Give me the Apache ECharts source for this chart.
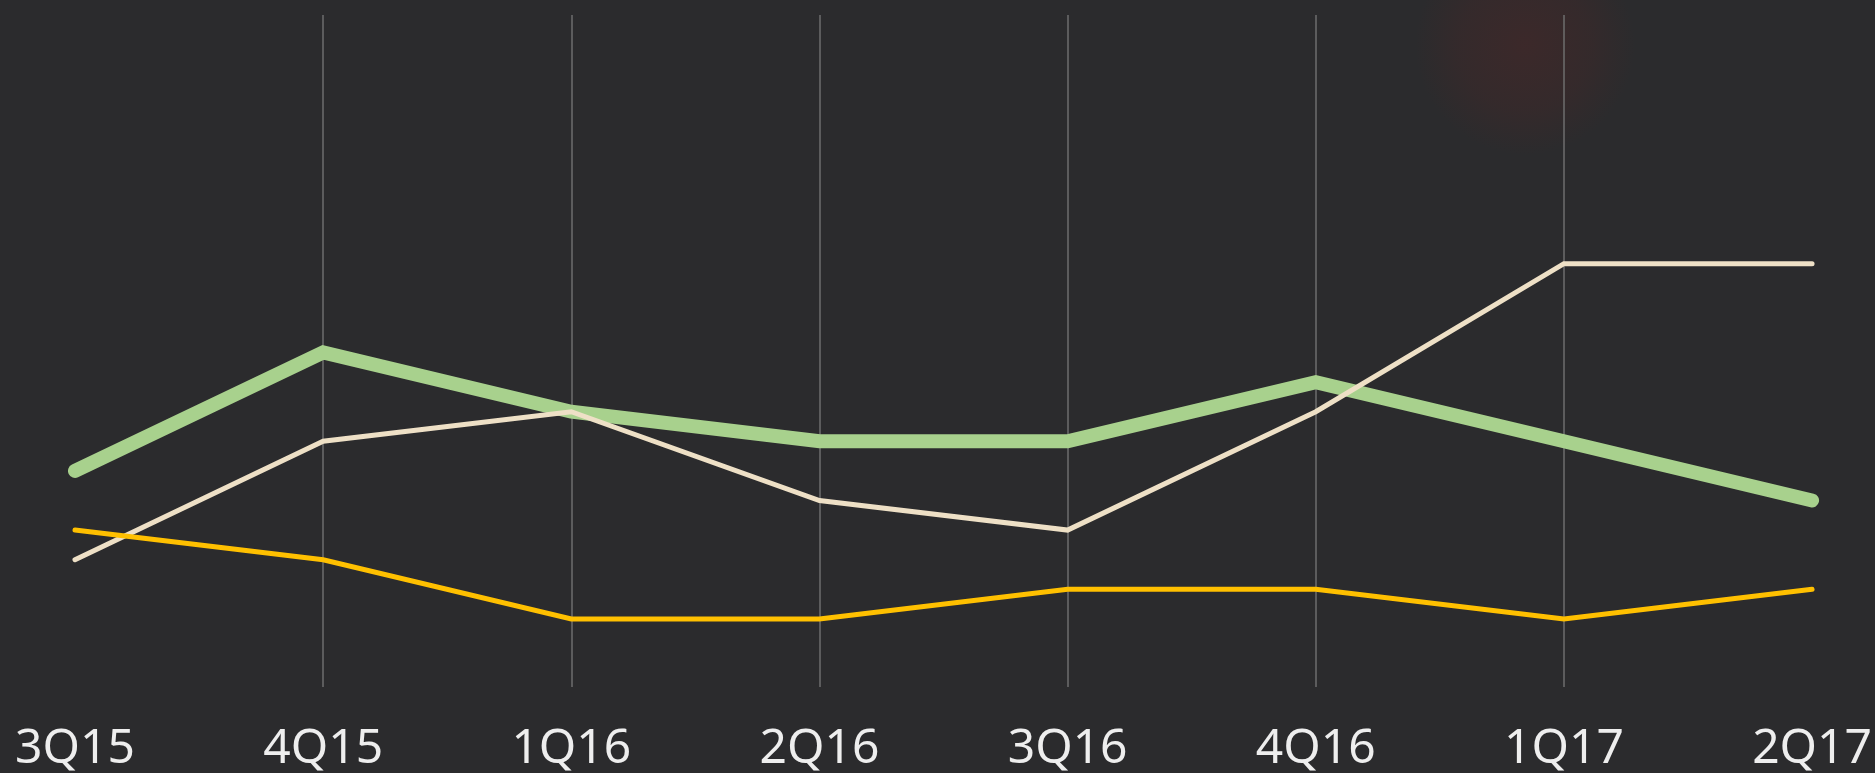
<!DOCTYPE html>
<html>
<head>
<meta charset="utf-8">
<script src="https://cdn.jsdelivr.net/npm/echarts@6/dist/echarts.min.js"></script>
<style>
  html, body { margin: 0; padding: 0; background: #2b2b2d; }
  #chart { width: 1875px; height: 773px; }
</style>
</head>
<body>
<div id="chart"></div>
<script>
const quarters = ['3Q15', '4Q15', '1Q16', '2Q16', '3Q16', '4Q16', '1Q17', '2Q17']
const greenData = [7, 11, 9, 8, 8, 10, 8, 6]
const creamData = [4, 8, 9, 6, 5, 9, 14, 14]
const yellowData = [5, 4, 2, 2, 3, 3, 2, 3]

const chart = echarts.init(document.getElementById('chart'))

function lineSeries (name, data, color, width) {
  return {
    name: name,
    type: 'line',
    data: data,
    symbol: 'none',
    silent: true,
    lineStyle: { color: color, width: width, cap: 'round', join: 'miter' }
  }
}

const option = {
  backgroundColor: '#2b2b2d',
  animation: false,
  graphic: [
    {
      // faint reddish glow in the top right corner
      type: 'ellipse',
      z: -10,
      shape: { cx: 1525, cy: 45, rx: 200, ry: 110 },
      style: {
        fill: new echarts.graphic.RadialGradient(0.5, 0.5, 0.5, [
          { offset: 0, color: 'rgba(80,38,38,0.45)' },
          { offset: 0.6, color: 'rgba(80,38,38,0.25)' },
          { offset: 1, color: 'rgba(80,38,38,0)' }
        ])
      }
    }
  ],
  grid: {
    left: 75,
    right: 62,
    top: 15,
    bottom: 86
  },
  xAxis: {
    type: 'category',
    boundaryGap: false,
    data: quarters,
    axisLine: { show: false },
    axisTick: { show: false },
    axisLabel: {
      color: '#eeeeee',
      fontSize: 48,
      fontFamily: 'Noto Sans',
      margin: 38
    },
    splitLine: {
      show: true,
      showMinLine: false,
      showMaxLine: false,
      lineStyle: { color: '#6e6e6e', width: 1.5 }
    }
  },
  yAxis: {
    type: 'value',
    min: -0.3,
    max: 22.4,
    show: false,
    splitLine: { show: false }
  },
  series: [
    lineSeries('green', greenData, '#a8d18d', 14),
    lineSeries('cream', creamData, '#eee0c6', 5),
    lineSeries('yellow', yellowData, '#ffc000', 5)
  ]
}

chart.setOption(option)
</script>
</body>
</html>
